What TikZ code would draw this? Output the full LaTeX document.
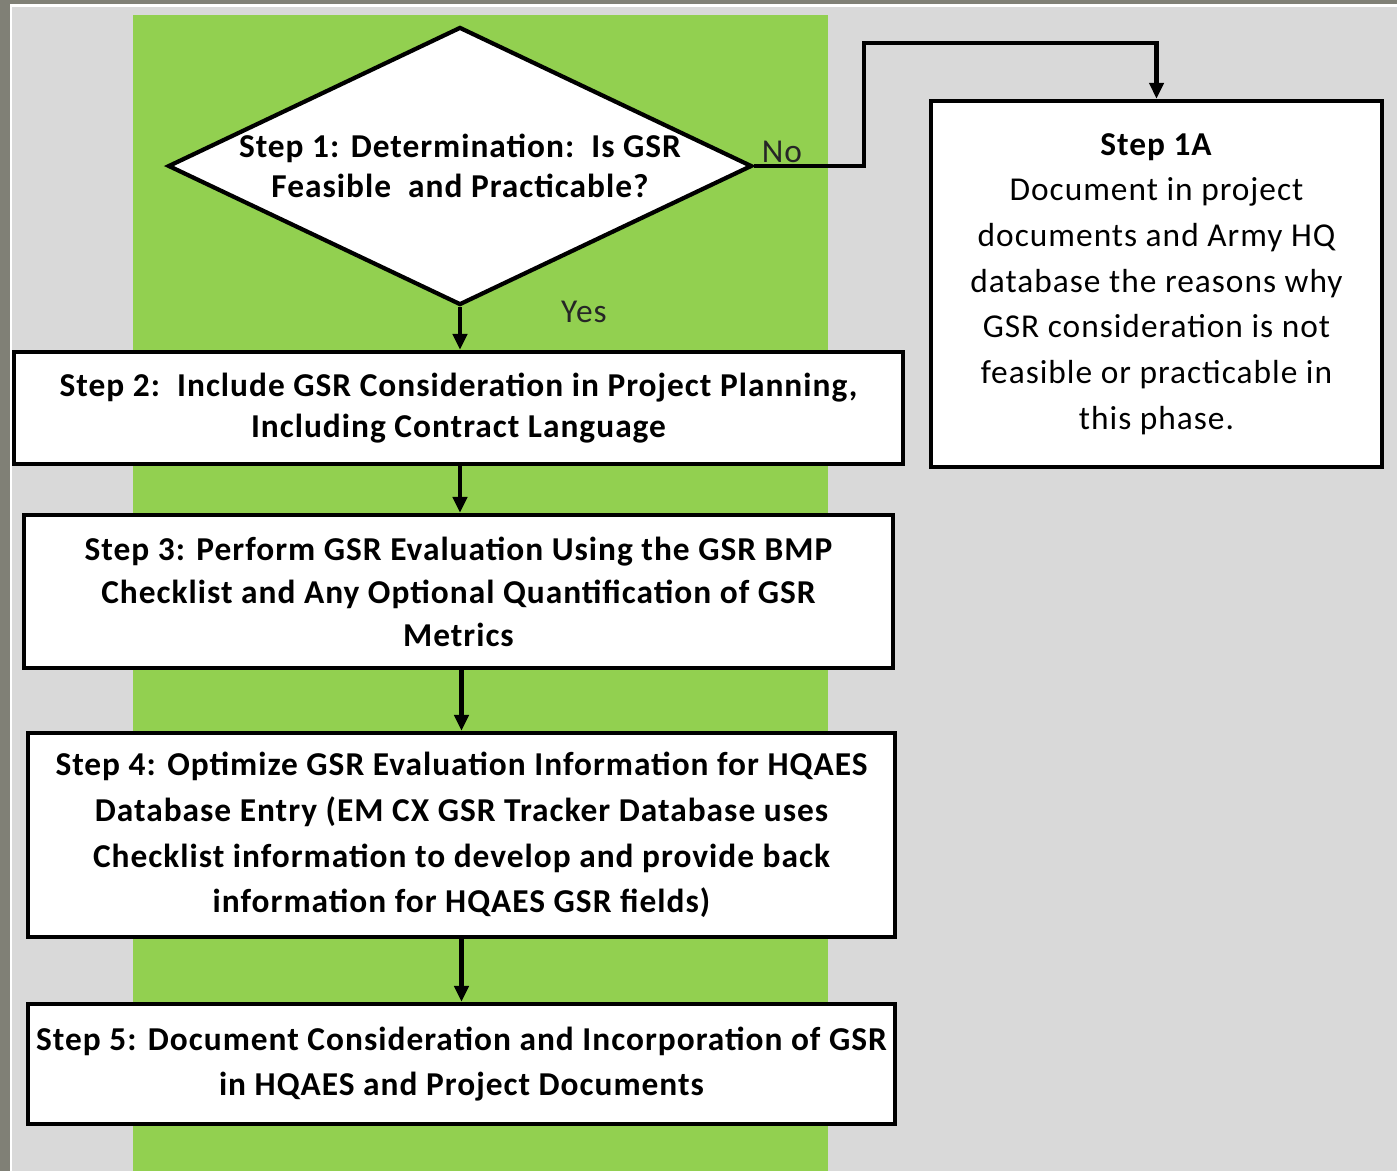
\documentclass[tikz,border=0pt]{standalone}
\usepackage{fontspec}
\setmainfont{Carlito}[LetterSpace=3]
\usetikzlibrary{shapes.geometric,arrows.meta}

\definecolor{pagegray}{RGB}{217,217,217}
\definecolor{framegray}{RGB}{128,128,118}
\definecolor{lanegreen}{RGB}{146,208,80}

\tikzset{
  stepbox/.style={draw=black, line width=2.6pt, fill=white, inner sep=0pt,
    align=center, font=\fontsize{19}{26}\selectfont\bfseries},
  decision/.style={diamond, draw=black, line width=2.4pt, fill=white,
    inner sep=0pt, minimum width=584*0.02cm, minimum height=278*0.02cm},
  flow/.style={line width=2.3pt, -{Triangle[length=9pt,width=8pt]}},
  answer/.style={font=\fontsize{19}{20}\selectfont, text=black!85}
}

\begin{document}
\begin{tikzpicture}[x=0.02cm, y=-0.02cm]
  \useasboundingbox (0,0) rectangle (1397,1171);
  % page, frame and the green lane
  \fill[pagegray] (0,0) rectangle (1397,1171);
  \fill[framegray] (0,0) rectangle (1397,4);
  \fill[framegray] (0,0) rectangle (10,1171);
  \draw[white, line width=1.2pt] (11,1171) -- (11,5.5) -- (1397,5.5);
  \fill[lanegreen] (133,15) rectangle (828,1171);

  \node[decision, label={[font=\fontsize{19}{23}\selectfont\bfseries,
      align=center]center:Step 1: Determination:\ \ Is GSR\\Feasible\ \ and Practicable?}]
    (q) at (460,166) {};
  \node[stepbox, minimum width=889*0.02cm, minimum height=112*0.02cm,
    font=\fontsize{19}{23}\selectfont\bfseries] (s2) at (458.5,408)
    {Step 2:\ \ Include GSR Consideration in Project Planning,\\Including Contract Language};
  \node[stepbox, minimum width=869*0.02cm, minimum height=153*0.02cm,
    font=\fontsize{19}{24.5}\selectfont\bfseries] (s3) at (458.5,591.5)
    {Step 3: Perform GSR Evaluation\ Using the GSR BMP\\Checklist and Any Optional Quantification\ of GSR\\Metrics};
  \node[stepbox, minimum width=867*0.02cm, minimum height=204*0.02cm] (s4) at (461.5,835)
    {Step 4: Optimize\ GSR Evaluation Information for HQAES\\Database\ Entry (EM CX GSR Tracker Database uses\\Checklist information to develop and provide back\\information for HQAES GSR fields)};
  \node[stepbox, minimum width=867*0.02cm, minimum height=120*0.02cm] (s5) at (461.5,1064)
    {Step 5: Document Consideration\ and Incorporation of GSR\\in HQAES and Project Documents};
  \node[stepbox, minimum width=451*0.02cm, minimum height=366*0.02cm,
    font=\fontsize{19}{26}\selectfont] (s1a) at (1156.5,284)
    {\textbf{Step 1A}\\Document\ in project\\documents\ and Army HQ\\database the reasons why\\GSR consideration is not\\feasible or practicable\ in\\this phase.};

  \coordinate (bend) at (864,43);
  \draw[flow] (q.south) -- (s2.north -| q.south);
  \draw[flow] (s2.south -| q.south) -- (s3.north -| q.south);
  \draw[flow] (s3.south -| s4.north) -- (s4.north);
  \draw[flow] (s4.south) -- (s5.north);
  \draw[flow, line join=miter] (q.east) -| (bend) -| (s1a.north);

  \node[answer] (no) at (782,152) {No};
  \node[answer] (yes) at (584,312) {Yes};
\end{tikzpicture}
\end{document}
